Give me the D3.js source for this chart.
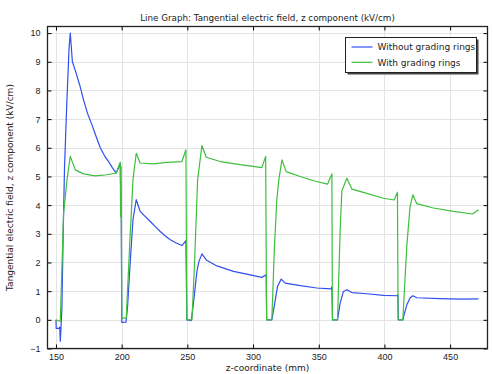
<!DOCTYPE html>
<html>
<head>
<meta charset="utf-8">
<script src="https://cdn.jsdelivr.net/npm/d3@7"></script>
<style>
  body { margin: 0; background: #fff; }
  svg { display: block; font-family: "DejaVu Sans", sans-serif; }
  .grid line { stroke: #e4e4e4; stroke-width: 1; }
  .tick-label { font-size: 9px; fill: #222; }
</style>
</head>
<body>
<svg id="chart" width="493" height="374"></svg>
<script>
// Without grading rings
const zBlue = [150, 150.2, 152.5, 152.9, 153.3, 153.7, 154.5, 155.5, 156.5, 158.2, 160, 160.9, 162.5, 164.7, 168, 171, 174, 177.4, 180.5, 183.7, 187, 190, 193, 195.9, 198.9, 199.7, 200.1, 203.3, 204.5, 206.5, 208.6, 211.1, 214.1, 218, 221.8, 225.6, 229.4, 233, 237, 241.5, 245.9, 248.9, 249.6, 253, 254.7, 257.3, 258.8, 261.1, 264.4, 272.5, 285.1, 297.9, 306.7, 310, 310.4, 314.3, 316.3, 318.6, 321.4, 324.5, 335.9, 348.6, 359.2, 360, 360.5, 364.3, 366.3, 368.8, 371.4, 375.2, 386.6, 399.3, 409.5, 410.2, 410.6, 414, 417, 419.5, 421.6, 424.6, 442.4, 457.6, 471.6];
const eBlue = [0, -0.3, -0.3, -0.25, -0.75, -0.4, 0.4, 3.0, 5.3, 7.5, 9.5, 10.0, 9.0, 8.7, 8.2, 7.67, 7.2, 6.8, 6.4, 6.0, 5.72, 5.52, 5.3, 5.12, 5.45, 3.6, -0.09, -0.08, 0.46, 1.98, 3.49, 4.19, 3.78, 3.6, 3.43, 3.25, 3.08, 2.93, 2.79, 2.68, 2.59, 2.76, 0, -0.03, 0.6, 1.7, 2.03, 2.3, 2.09, 1.88, 1.69, 1.57, 1.48, 1.57, 0, 0, 0.52, 1.16, 1.42, 1.28, 1.19, 1.11, 1.08, 1.14, 0, 0, 0.58, 0.99, 1.05, 0.95, 0.91, 0.85, 0.84, 0.88, 0, 0, 0.52, 0.76, 0.84, 0.77, 0.74, 0.72, 0.73];

// With grading rings
const zGreen = [150, 152.7, 153.3, 155.8, 157.8, 158.4, 160.9, 164.7, 171, 179.9, 188.8, 195.9, 198.9, 199.2, 199.6, 200.1, 203.5, 206, 208.6, 211.1, 214.1, 224.3, 234.4, 245.9, 248.9, 249.6, 253.5, 255.5, 257.8, 261.1, 264.4, 275, 290.3, 306.7, 309.6, 310.3, 314.3, 316.3, 318.1, 319.6, 322, 325.2, 335.9, 346, 356.7, 360, 360.4, 364.3, 366.3, 367.6, 371.4, 375.2, 386.6, 399.3, 407.4, 409.9, 410.4, 414, 417, 419.5, 421.6, 424.6, 437.3, 452.5, 467, 471.6];
const eGreen = [0, -0.05, -0.05, 3.72, 4.6, 4.88, 5.7, 5.23, 5.09, 5.02, 5.06, 5.12, 5.5, 3.6, 5.35, 0.06, 0.06, 2.5, 4.88, 5.81, 5.47, 5.44, 5.49, 5.52, 5.93, 0, 0, 2.0, 4.88, 6.08, 5.67, 5.52, 5.41, 5.31, 5.7, 0, 0, 2.56, 4.19, 4.88, 5.58, 5.17, 5.0, 4.85, 4.73, 5.09, 0, 0, 3.14, 4.5, 4.94, 4.56, 4.41, 4.24, 4.18, 4.45, 0, 0, 2.56, 3.95, 4.36, 4.05, 3.9, 3.78, 3.69, 3.84];

const xTicks = [150, 200, 250, 300, 350, 400, 450];
const yTicks = [-1, 0, 1, 2, 3, 4, 5, 6, 7, 8, 9, 10];
const seriesNames = ['Without grading rings', 'With grading rings'];
const seriesColors = ['#2f4ff0', '#3dbf3d'];

const svg = d3.select('#chart');
const W = 493, H = 374;
const margin = {top: 26.5, right: 5.5, bottom: 25.5, left: 47.5};
const x0 = margin.left, x1 = W - margin.right, y0 = margin.top, y1 = H - margin.bottom;

const x = d3.scaleLinear().domain([143.56, 478.44]).range([x0, x1]);
const y = d3.scaleLinear().domain([-1, 10.23]).range([y1, y0]);

// grid
const grid = svg.append('g').attr('class', 'grid');
grid.selectAll('.gx').data(xTicks).enter().append('line')
  .attr('x1', d => Math.round(x(d)) + 0.5).attr('x2', d => Math.round(x(d)) + 0.5)
  .attr('y1', y0).attr('y2', y1);
grid.selectAll('.gy').data(yTicks).enter().append('line')
  .attr('y1', d => Math.round(y(d)) + 0.5).attr('y2', d => Math.round(y(d)) + 0.5)
  .attr('x1', x0).attr('x2', x1);

// lines
const line = d3.line().x(d => x(d[0])).y(d => y(d[1]));
const series = [d3.zip(zBlue, eBlue), d3.zip(zGreen, eGreen)];
series.forEach((s, i) => {
  svg.append('path').datum(s)
    .attr('d', line)
    .attr('fill', 'none')
    .attr('stroke', seriesColors[i])
    .attr('stroke-width', 1.2)
    .attr('stroke-linejoin', 'round');
});

// axes: inward ticks on all four sides
const TL = 4;
svg.append('g').attr('transform', `translate(0,${y1})`)
  .call(d3.axisBottom(x).tickValues(xTicks).tickSizeInner(-TL).tickSizeOuter(0).tickPadding(5.5))
  .call(g => g.select('.domain').remove())
  .call(g => g.selectAll('text').attr('class', 'tick-label').attr('font-family', null).attr('font-size', null));
svg.append('g').attr('transform', `translate(0,${y0})`)
  .call(d3.axisTop(x).tickValues(xTicks).tickSizeInner(-TL).tickSizeOuter(0).tickFormat(''))
  .call(g => g.select('.domain').remove());
svg.append('g').attr('transform', `translate(${x0},0)`)
  .call(d3.axisLeft(y).tickValues(yTicks).tickSizeInner(-TL).tickSizeOuter(0).tickPadding(7))
  .call(g => g.select('.domain').remove())
  .call(g => g.selectAll('text').attr('class', 'tick-label').attr('font-family', null).attr('font-size', null));
svg.append('g').attr('transform', `translate(${x1},0)`)
  .call(d3.axisRight(y).tickValues(yTicks).tickSizeInner(-TL).tickSizeOuter(0).tickFormat(''))
  .call(g => g.select('.domain').remove());

// frame
svg.append('rect')
  .attr('x', x0).attr('y', y0).attr('width', x1 - x0).attr('height', y1 - y0)
  .attr('fill', 'none').attr('stroke', '#222').attr('stroke-width', 1.3);

// title and axis labels
svg.append('text').attr('x', (x0 + x1) / 2).attr('y', 21)
  .attr('text-anchor', 'middle').attr('font-size', 8.75).attr('fill', '#222')
  .text('Line Graph: Tangential electric field, z component (kV/cm)');
svg.append('text').attr('x', (x0 + x1) / 2).attr('y', 370.5)
  .attr('text-anchor', 'middle').attr('font-size', 9).attr('fill', '#222')
  .text('z-coordinate (mm)');
svg.append('text')
  .attr('transform', `translate(13,${(y0 + y1) / 2}) rotate(-90)`)
  .attr('text-anchor', 'middle').attr('font-size', 9).attr('fill', '#222')
  .text('Tangential electric field, z component (kV/cm)');

// legend
const lg = svg.append('g').attr('transform', 'translate(345.5,37.5)');
lg.append('rect').attr('x', 2).attr('y', 2).attr('width', 131).attr('height', 35).attr('fill', '#444');
lg.append('rect').attr('width', 131).attr('height', 35).attr('fill', '#fff').attr('stroke', '#222').attr('stroke-width', 1);
seriesNames.forEach((name, i) => {
  const yy = 9.5 + i * 15.3;
  lg.append('line').attr('x1', 6).attr('x2', 27).attr('y1', yy).attr('y2', yy)
    .attr('stroke', seriesColors[i]).attr('stroke-width', 1.2);
  lg.append('text').attr('x', 32).attr('y', yy + 3.3)
    .attr('font-size', 9).attr('fill', '#222').text(name);
});
</script>
</body>
</html>
